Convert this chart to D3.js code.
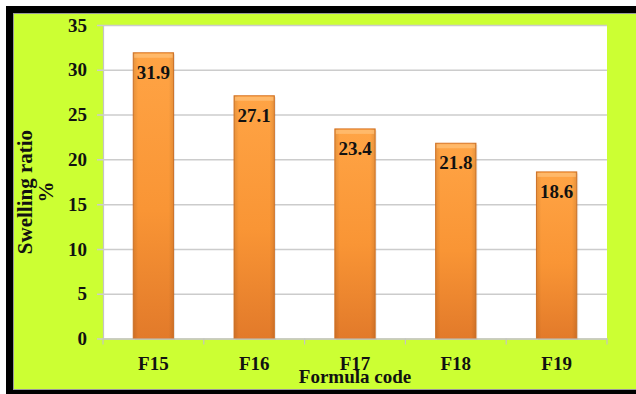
<!DOCTYPE html>
<html>
<head>
<meta charset="utf-8">
<script src="https://cdn.jsdelivr.net/npm/d3@7/dist/d3.min.js"></script>
<style>
  html, body { margin: 0; padding: 0; background: #ffffff; overflow: hidden; }
  svg { display: block; }
  text { font-family: "Liberation Serif", "Times New Roman", serif; font-weight: bold; fill: #111; }
</style>
</head>
<body>
<script>
// Swelling ratio (%) per formula
const categories = ["F15", "F16", "F17", "F18", "F19"];
const swelling = [31.9, 27.1, 23.4, 21.8, 18.6];
const yTicks = [0, 5, 10, 15, 20, 25, 30, 35];

const W = 636, H = 394;
const plot = { left: 103, right: 607, top: 25, bottom: 338.5 };

const svg = d3.select("body").append("svg")
  .attr("width", W).attr("height", H);

const defs = svg.append("defs");
const grad = defs.append("linearGradient")
  .attr("id", "barFill").attr("x1", 0).attr("y1", 0).attr("x2", 0).attr("y2", 1);
grad.append("stop").attr("offset", "0%").attr("stop-color", "#ffa445");
grad.append("stop").attr("offset", "55%").attr("stop-color", "#f99535");
grad.append("stop").attr("offset", "100%").attr("stop-color", "#e27a2a");

const side = defs.append("linearGradient")
  .attr("id", "barSide").attr("x1", 0).attr("y1", 0).attr("x2", 1).attr("y2", 0);
side.append("stop").attr("offset", "0%").attr("stop-color", "#000").attr("stop-opacity", 0.10);
side.append("stop").attr("offset", "12%").attr("stop-color", "#000").attr("stop-opacity", 0);
side.append("stop").attr("offset", "88%").attr("stop-color", "#000").attr("stop-opacity", 0);
side.append("stop").attr("offset", "100%").attr("stop-color", "#000").attr("stop-opacity", 0.10);

// Green panel with heavy black frame
svg.append("rect")
  .attr("x", 9.5).attr("y", 9.5)
  .attr("width", 720).attr("height", 384)
  .attr("fill", "#ccff33")
  .attr("stroke", "#000").attr("stroke-width", 7);
svg.append("rect")
  .attr("x", 13.5).attr("y", 13.5)
  .attr("width", 720).attr("height", 376)
  .attr("fill", "none")
  .attr("stroke", "#9a9a9a").attr("stroke-width", 1);

// Plot area
svg.append("rect")
  .attr("x", plot.left).attr("y", plot.top)
  .attr("width", plot.right - plot.left).attr("height", plot.bottom - plot.top)
  .attr("fill", "#ffffff");

const x = d3.scaleBand()
  .domain(categories)
  .range([plot.left, plot.right])
  .paddingInner(0.6)
  .paddingOuter(0.3);

const y = d3.scaleLinear()
  .domain([0, 35])
  .range([plot.bottom, plot.top]);

// Horizontal gridlines and y axis
const yAxis = d3.axisLeft(y)
  .tickValues(yTicks)
  .tickSize(-(plot.right - plot.left))
  .tickSizeOuter(0)
  .tickPadding(16);

const gy = svg.append("g")
  .attr("transform", `translate(${plot.left},0)`)
  .call(yAxis);
gy.select(".domain").attr("stroke", "#c4c4c4").attr("stroke-width", 1.2);
gy.selectAll(".tick line")
  .attr("stroke", "#cccccc").attr("stroke-width", 1.5)
  .attr("x1", -6);
gy.selectAll(".tick text")
  .style("font-size", "19px")
  .attr("fill", "#111");

// Bars
const bars = svg.append("g");
categories.forEach((c, i) => {
  const x0 = x(c), bw = x.bandwidth();
  const yTop = y(swelling[i]);
  const h = y(0) - yTop;
  bars.append("rect")
    .attr("x", x0 + 1.5).attr("y", yTop + 1.5)
    .attr("width", bw).attr("height", h)
    .attr("fill", "#000").attr("opacity", 0.08);
  bars.append("rect")
    .attr("x", x0).attr("y", yTop)
    .attr("width", bw).attr("height", h)
    .attr("fill", "url(#barFill)")
    .attr("stroke", "#d8782a").attr("stroke-width", 1);
  bars.append("rect")
    .attr("x", x0).attr("y", yTop)
    .attr("width", bw).attr("height", h)
    .attr("fill", "url(#barSide)");
  bars.append("rect")
    .attr("x", x0 + 1).attr("y", yTop + 1)
    .attr("width", bw - 2).attr("height", 4)
    .attr("fill", "#ffc27a").attr("opacity", 0.7);
  bars.append("text")
    .attr("x", x0 + bw / 2).attr("y", yTop + 26)
    .attr("text-anchor", "middle")
    .style("font-size", "19px")
    .text(swelling[i].toFixed(1));
});

// X axis with category tick marks
const xAxis = d3.axisBottom(x).tickSize(0).tickPadding(18);
const gx = svg.append("g")
  .attr("transform", `translate(0,${plot.bottom})`)
  .call(xAxis);
gx.select(".domain").attr("stroke", "#c4c4c4").attr("stroke-width", 1.2);
gx.selectAll(".tick text").style("font-size", "19px").attr("fill", "#111");

const bounds = categories.map(c => x(c) - x.step() * x.paddingInner() / 2)
  .concat([plot.right]);
bounds[0] = plot.left;
gx.selectAll(".bound").data(bounds).enter().append("line")
  .attr("x1", d => d).attr("x2", d => d)
  .attr("y1", 0).attr("y2", 6)
  .attr("stroke", "#c4c4c4").attr("stroke-width", 1.2);

// Axis titles
svg.append("text")
  .attr("x", (plot.left + plot.right) / 2).attr("y", 383)
  .attr("text-anchor", "middle")
  .style("font-size", "19px")
  .text("Formula code");

const yTitle = svg.append("text")
  .attr("transform", `translate(32,192) rotate(-90)`)
  .attr("text-anchor", "middle")
  .style("font-size", "21px");
yTitle.append("tspan").attr("x", 0).attr("dy", 0).text("Swelling ratio");
yTitle.append("tspan").attr("x", 0).attr("dy", 21).text("%");
</script>
</body>
</html>
